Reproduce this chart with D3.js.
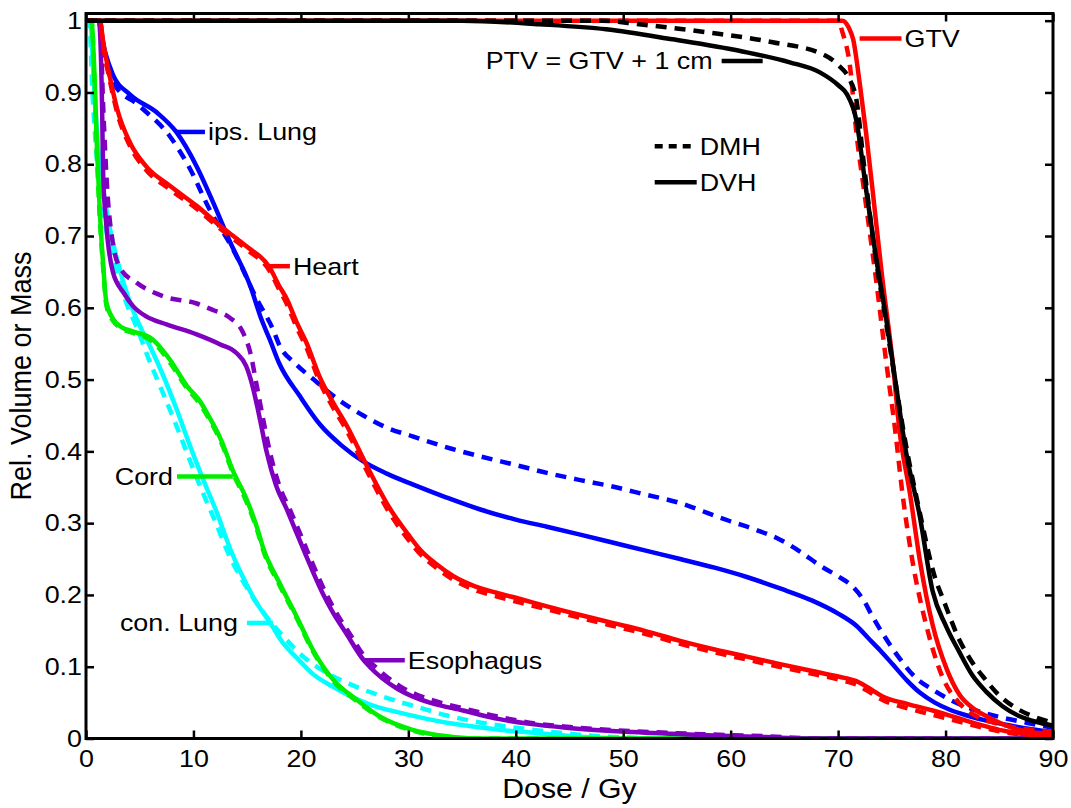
<!DOCTYPE html>
<html>
<head>
<meta charset="utf-8">
<script src="https://cdn.jsdelivr.net/npm/d3@7"></script>
<style>
  html, body { margin: 0; padding: 0; background: #fff; }
  svg { display: block; }
  text { font-family: "Liberation Sans", Arial, sans-serif; fill: #000; }
</style>
</head>
<body>
<svg id="chart" width="1071" height="808"></svg>
<script>
// Dose-volume (DVH) and dose-mass (DMH) histograms: [dose in Gy, relative volume or mass]
const ipsLungDVH = [[0,1],[1.1,1],[1.8,0.955],[2.5,0.925],[4.1,0.897],[6.6,0.872],[8.4,0.845],[10.3,0.797],[11.8,0.748],[13.4,0.692],[15.3,0.630],[16.3,0.585],[17.1,0.556],[18.0,0.522],[19.9,0.477],[21.8,0.437],[23.8,0.408],[25.8,0.386],[28,0.369],[30.4,0.354],[33.5,0.336],[36.7,0.319],[40,0.305],[42.9,0.295],[46,0.284],[49.0,0.273],[52,0.262],[55.3,0.250],[58.5,0.238],[61.5,0.225],[64.6,0.209],[67.6,0.192],[70,0.174],[71.7,0.157],[72.8,0.140],[73.9,0.123],[75.1,0.103],[76.4,0.081],[77.6,0.064],[79,0.050],[80.4,0.040],[82,0.032],[83.5,0.026],[86,0.018],[88,0.013],[90,0.009]];
const ipsLungDMH = [[0,1],[1.1,1],[1.8,0.945],[2.5,0.914],[5.0,0.881],[7.8,0.839],[9.7,0.793],[11.5,0.737],[13.7,0.681],[15.9,0.612],[17.4,0.570],[18.0,0.548],[19.5,0.522],[21.2,0.500],[23.5,0.472],[25.8,0.450],[28,0.433],[30.4,0.421],[33.5,0.406],[36.7,0.393],[40,0.381],[42.9,0.370],[46,0.360],[49.0,0.351],[52,0.340],[55.3,0.328],[57.7,0.315],[59.9,0.303],[62.3,0.291],[64.6,0.277],[66.5,0.260],[68.3,0.241],[70,0.226],[71.4,0.211],[72.4,0.192],[73.2,0.170],[74.2,0.145],[75.7,0.112],[77.2,0.085],[78.8,0.068],[80.4,0.054],[81.9,0.044],[83.5,0.036],[85,0.030],[87.5,0.022],[90,0.015]];

const heartDVH = [[0,1],[1.3,1],[1.6,0.97],[2.2,0.923],[2.9,0.877],[4.1,0.830],[5.6,0.797],[7.8,0.770],[10.3,0.742],[12.5,0.714],[14.9,0.686],[17.1,0.656],[18.0,0.630],[18.7,0.612],[19.6,0.580],[20.5,0.552],[21.8,0.502],[23,0.468],[24.3,0.435],[26.1,0.381],[28.3,0.320],[30,0.284],[31.1,0.263],[32.6,0.243],[34.2,0.226],[36.2,0.212],[38.2,0.203],[40.5,0.194],[42.9,0.184],[46,0.172],[49.0,0.161],[52,0.150],[55.3,0.136],[58.5,0.124],[61.5,0.114],[64.5,0.104],[67.6,0.094],[70.1,0.086],[71.7,0.080],[73,0.069],[74.1,0.059],[76.5,0.048],[78.8,0.039],[80.4,0.032],[81.9,0.025],[83.5,0.018],[85,0.012],[87.5,0.006],[90,0.003]];
const heartDMH = [[0,1],[1.3,1],[1.6,0.965],[2.2,0.918],[2.9,0.872],[4.1,0.825],[5.6,0.792],[7.8,0.765],[10.3,0.738],[12.5,0.710],[14.9,0.682],[17.1,0.651],[18.0,0.625],[18.7,0.605],[19.6,0.573],[20.5,0.545],[21.8,0.495],[23,0.461],[24.3,0.428],[26.1,0.374],[28.3,0.313],[30,0.277],[31.1,0.257],[32.6,0.238],[34.2,0.221],[36.2,0.207],[38.2,0.198],[40.5,0.189],[42.9,0.180],[46,0.168],[49.0,0.157],[52,0.146],[55.3,0.132],[58.5,0.120],[61.5,0.110],[64.5,0.100],[67.6,0.090],[70.1,0.082],[71.7,0.075],[73,0.064],[74.1,0.054],[76.5,0.042],[78.8,0.033],[80.4,0.027],[81.9,0.021],[83.5,0.015],[85,0.010],[87.5,0.005],[90,0.002]];

const gtvDVH = [[0,1],[70.4,1],[71.0,0.99],[71.4,0.974],[72,0.914],[72.6,0.844],[73.2,0.765],[74.1,0.643],[75.1,0.522],[75.7,0.431],[76.7,0.340],[77.6,0.249],[78.8,0.158],[80.1,0.097],[81.3,0.061],[82.5,0.043],[83.8,0.031],[86.9,0.012],[90,0.006]];
const gtvDMH = [[0,1],[70.0,1],[70.4,0.984],[71.1,0.937],[71.7,0.844],[72.4,0.765],[73.5,0.643],[74.5,0.522],[75.3,0.431],[76.0,0.340],[76.9,0.249],[78.2,0.158],[79.7,0.086],[81.3,0.049],[83,0.030],[85.3,0.019],[87.5,0.013],[90,0.009]];

const ptvDVH = [[0,1],[35,1],[42.2,0.995],[48.4,0.988],[54.6,0.974],[60.8,0.958],[65.5,0.942],[68.3,0.928],[70.1,0.909],[70.8,0.898],[71.7,0.861],[72.6,0.765],[73.5,0.673],[74.5,0.582],[75.4,0.491],[76.3,0.401],[77.6,0.310],[78.8,0.205],[80,0.158],[81.3,0.120],[82.5,0.088],[83.8,0.065],[85.3,0.045],[86.9,0.031],[88.5,0.023],[90,0.018]];
const ptvDMH = [[0,1],[48,1],[51.5,0.995],[57.7,0.984],[63.9,0.970],[68.6,0.953],[70.1,0.937],[71.0,0.920],[71.7,0.890],[72.4,0.80],[73.3,0.690],[74.3,0.595],[75.3,0.500],[76.3,0.410],[77.6,0.315],[79.0,0.225],[79.8,0.193],[81.3,0.137],[82.4,0.108],[83.5,0.086],[85,0.060],[86.6,0.042],[88.3,0.030],[90,0.022]];

const cordDVH = [[0,1],[0.5,1],[0.8,0.92],[1.0,0.83],[1.3,0.73],[1.6,0.66],[1.9,0.607],[2.5,0.585],[3.2,0.574],[4.4,0.567],[6.2,0.556],[7.8,0.528],[9.4,0.491],[10.6,0.470],[11.5,0.447],[12.6,0.415],[13.7,0.372],[14.9,0.335],[16.0,0.290],[16.5,0.265],[18.0,0.217],[19.6,0.170],[21.1,0.124],[23.0,0.082],[25.2,0.054],[27.3,0.031],[30.4,0.012],[33.6,0.003],[36,0],[90,0]];
const cordDMH = [[0,1],[0.5,1],[0.8,0.91],[1.0,0.82],[1.3,0.72],[1.6,0.655],[1.9,0.603],[2.5,0.582],[3.2,0.572],[4.4,0.565],[6.2,0.553],[7.8,0.524],[9.4,0.488],[10.6,0.466],[11.5,0.444],[12.6,0.412],[13.7,0.369],[14.9,0.331],[16.0,0.287],[16.5,0.262],[18.0,0.214],[19.6,0.168],[21.1,0.122],[23.0,0.080],[25.2,0.052],[27.3,0.030],[30.4,0.011],[33.6,0.002],[36,0],[90,0]];

const conLungDVH = [[0,1],[0.4,1],[0.7,0.923],[1.1,0.830],[1.9,0.737],[2.9,0.667],[4.1,0.607],[5.0,0.575],[6.0,0.545],[7.2,0.505],[8.4,0.460],[9.7,0.407],[10.9,0.361],[12.2,0.314],[13.4,0.265],[14.5,0.228],[15.6,0.196],[17.4,0.155],[18.0,0.140],[19.9,0.108],[21.1,0.090],[23.0,0.072],[24.2,0.062],[26.5,0.047],[28.9,0.037],[31.5,0.028],[33.6,0.022],[35.4,0.018],[38.5,0.012],[41.6,0.008],[44.7,0.004],[47.8,0.001],[50,0],[90,0]];
const conLungDMH = [[0,1],[0.3,1],[0.6,0.90],[1.0,0.81],[1.7,0.725],[2.7,0.655],[3.8,0.605],[4.8,0.57],[5.8,0.53],[7.0,0.487],[8.3,0.44],[9.6,0.39],[10.8,0.345],[12.1,0.30],[13.3,0.256],[14.5,0.222],[15.6,0.195],[17.0,0.166],[18.5,0.140],[20.3,0.113],[22.7,0.089],[25,0.073],[27.3,0.060],[29.2,0.051],[31.5,0.041],[33.6,0.032],[35.4,0.026],[38.5,0.018],[41.6,0.012],[44.7,0.007],[47.8,0.003],[51,0.001],[55,0],[90,0]];

const esophagusDVH = [[0,1],[1.2,1],[1.5,0.877],[1.6,0.784],[1.9,0.714],[2.5,0.650],[3.5,0.621],[4.4,0.602],[5.6,0.588],[7.5,0.577],[10.3,0.563],[12.5,0.549],[14.0,0.537],[14.9,0.519],[15.5,0.491],[16.2,0.444],[16.8,0.400],[17.7,0.352],[18.7,0.319],[19.5,0.290],[20.5,0.254],[22.0,0.203],[23.0,0.175],[24.2,0.147],[25.8,0.110],[26.4,0.100],[28.9,0.070],[30.5,0.058],[32.0,0.050],[35.1,0.039],[38.5,0.027],[41.5,0.020],[44.7,0.015],[50.9,0.009],[57.1,0.005],[63.3,0.002],[67,0],[90,0]];
const esophagusDMH = [[0,1],[1.3,1],[1.6,0.88],[2.0,0.76],[2.5,0.69],[3.2,0.655],[4.7,0.635],[7.2,0.616],[10.3,0.606],[11.8,0.597],[13.4,0.586],[14.6,0.566],[15.3,0.537],[15.9,0.491],[16.5,0.444],[17.1,0.400],[18.0,0.352],[19.0,0.318],[19.8,0.290],[20.8,0.254],[22.3,0.203],[23.3,0.175],[24.5,0.147],[26.0,0.113],[26.7,0.103],[29.2,0.073],[30.8,0.061],[32.3,0.053],[35.4,0.041],[38.8,0.029],[41.8,0.021],[45,0.016],[51.2,0.010],[57.4,0.006],[63.6,0.003],[68,0],[90,0]];

// Axis ticks
const doseTicks = [0, 10, 20, 30, 40, 50, 60, 70, 80, 90];
const volumeTicks = [0, 0.1, 0.2, 0.3, 0.4, 0.5, 0.6, 0.7, 0.8, 0.9, 1];

// Structure labels: leader segment [dose from, dose to] at a volume level; text on the given side
const labelTexts = ["ips. Lung", "Heart", "Cord", "con. Lung", "Esophagus", "GTV", "PTV = GTV + 1 cm"];
const labelDose = [[8.47, 11.07], [16.84, 18.98], [8.47, 13.67], [14.98, 17.40], [25.77, 29.67], [72.0, 75.9], [59.16, 62.98]];
const labelVolume = [0.845, 0.658, 0.365, 0.161, 0.109, 0.975, 0.944];
const labelSide = ["right", "right", "left", "left", "right", "right", "left"];

// Line-style key
const keyTexts = ["DMH", "DVH"];
const keyDose = [52.93, 56.84];
const keyVolume = [0.825, 0.775];

const COLORS = {
  blue: "#0000ff", red: "#ff0000", green: "#00ee00", cyan: "#00ffff",
  purple: "#7f00bf", black: "#000000"
};

// Glyphs in this figure are drawn slightly wider than the font's natural width
const TEXT_STRETCH = 1.12;
function stretchText(sel) {
  sel.each(function () {
    const t = d3.select(this);
    const ax = +t.attr("x") || 0;
    t.attr("transform", `translate(${ax},0) scale(${TEXT_STRETCH},1) translate(${-ax},0)`);
  });
}

const svg = d3.select("#chart");
const W = 1071, H = 808;
const margin = { left: 86, right: W - 1053, top: 13.5, bottom: H - 738.5 };

const x = d3.scaleLinear().domain([0, 90]).range([margin.left, W - margin.right]);
const y = d3.scaleLinear().domain([0, 1.01]).range([H - margin.bottom, margin.top]);

svg.append("defs").append("clipPath").attr("id", "plotClip")
  .append("rect")
  .attr("x", x(0)).attr("y", y(1.01))
  .attr("width", x(90) - x(0)).attr("height", y(0) - y(1.01));

const line = d3.line().x(d => x(d[0])).y(d => y(d[1])).curve(d3.curveMonotoneX);

const curves = [
  { data: ipsLungDVH, color: COLORS.blue, dashed: false },
  { data: ipsLungDMH, color: COLORS.blue, dashed: true },
  { data: conLungDMH, color: COLORS.cyan, dashed: true },
  { data: conLungDVH, color: COLORS.cyan, dashed: false },
  { data: cordDMH, color: COLORS.green, dashed: true },
  { data: cordDVH, color: COLORS.green, dashed: false },
  { data: esophagusDMH, color: COLORS.purple, dashed: true },
  { data: esophagusDVH, color: COLORS.purple, dashed: false },
  { data: heartDMH, color: COLORS.red, dashed: true },
  { data: heartDVH, color: COLORS.red, dashed: false },
  { data: gtvDVH, color: COLORS.red, dashed: false },
  { data: gtvDMH, color: COLORS.red, dashed: true },
  { data: ptvDVH, color: COLORS.black, dashed: false },
  { data: ptvDMH, color: COLORS.black, dashed: true }
];

const plot = svg.append("g").attr("clip-path", "url(#plotClip)");
plot.selectAll("path.curve").data(curves).join("path")
  .attr("class", "curve")
  .attr("d", c => line(c.data))
  .attr("fill", "none")
  .attr("stroke", c => c.color)
  .attr("stroke-width", 4.5)
  .attr("stroke-linejoin", "round")
  .attr("stroke-dasharray", c => c.dashed ? "11,8" : null);

// Axes box with inward ticks on all four sides
const TICK = 8;
const axisG = svg.append("g");
axisG.append("rect")
  .attr("x", x(0)).attr("y", y(1.01))
  .attr("width", x(90) - x(0)).attr("height", y(0) - y(1.01))
  .attr("fill", "none").attr("stroke", "#000").attr("stroke-width", 3);

const bottomAxis = d3.axisBottom(x).tickValues(doseTicks).tickSize(-TICK).tickPadding(11).tickFormat(d3.format("d"));
const topAxis = d3.axisTop(x).tickValues(doseTicks).tickSize(-TICK).tickFormat("");
const leftAxis = d3.axisLeft(y).tickValues(volumeTicks).tickSize(-TICK).tickPadding(4)
  .tickFormat(d => d === 0 || d === 1 ? d3.format("d")(d) : d3.format(".1f")(d));
const rightAxis = d3.axisRight(y).tickValues(volumeTicks).tickSize(-TICK).tickFormat("");

function styleAxis(g) {
  g.select(".domain").remove();
  g.selectAll(".tick line").attr("stroke", "#000").attr("stroke-width", 2.5);
  g.selectAll(".tick text").attr("font-size", 24)
    .attr("font-family", "Liberation Sans, Arial, sans-serif").attr("fill", "#000")
    .call(stretchText);
}
axisG.append("g").attr("transform", `translate(0,${y(0)})`).call(bottomAxis).call(styleAxis);
axisG.append("g").attr("transform", `translate(0,${y(1.01)})`).call(topAxis).call(styleAxis);
axisG.append("g").attr("transform", `translate(${x(0)},0)`).call(leftAxis).call(styleAxis);
axisG.append("g").attr("transform", `translate(${x(90)},0)`).call(rightAxis).call(styleAxis);

// Axis titles
svg.append("text")
  .attr("x", (x(0) + x(90)) / 2).attr("y", 798)
  .attr("text-anchor", "middle").attr("font-size", 27)
  .text("Dose / Gy")
  .call(stretchText);
svg.append("text")
  .attr("transform", `translate(31,${(y(0) + y(1.01)) / 2}) rotate(-90) scale(1,${TEXT_STRETCH})`)
  .attr("text-anchor", "middle").attr("font-size", 27)
  .text("Rel. Volume or Mass");

// Structure labels with leader lines
const labelColors = [COLORS.blue, COLORS.red, COLORS.green, COLORS.cyan, COLORS.purple, COLORS.red, COLORS.black];
const labels = svg.append("g");
labelTexts.forEach((t, i) => {
  const [d0, d1] = labelDose[i];
  const v = labelVolume[i];
  labels.append("line")
    .attr("x1", x(d0)).attr("x2", x(d1)).attr("y1", y(v)).attr("y2", y(v))
    .attr("stroke", labelColors[i]).attr("stroke-width", 4.5);
  const right = labelSide[i] === "right";
  labels.append("text")
    .attr("x", right ? x(d1) + 3 : x(d0) - (i === 2 ? 4 : 9))
    .attr("y", y(v)).attr("dy", "0.35em")
    .attr("text-anchor", right ? "start" : "end")
    .attr("font-size", 24)
    .text(t)
    .call(stretchText);
});

// Line-style key
keyTexts.forEach((t, i) => {
  labels.append("line")
    .attr("x1", x(keyDose[0])).attr("x2", x(keyDose[1]))
    .attr("y1", y(keyVolume[i])).attr("y2", y(keyVolume[i]))
    .attr("stroke", "#000").attr("stroke-width", 4.5)
    .attr("stroke-dasharray", i === 0 ? "8,6" : null);
  labels.append("text")
    .attr("x", x(keyDose[1]) + 3).attr("y", y(keyVolume[i])).attr("dy", "0.35em")
    .attr("font-size", 24)
    .text(t)
    .call(stretchText);
});
</script>
</body>
</html>
